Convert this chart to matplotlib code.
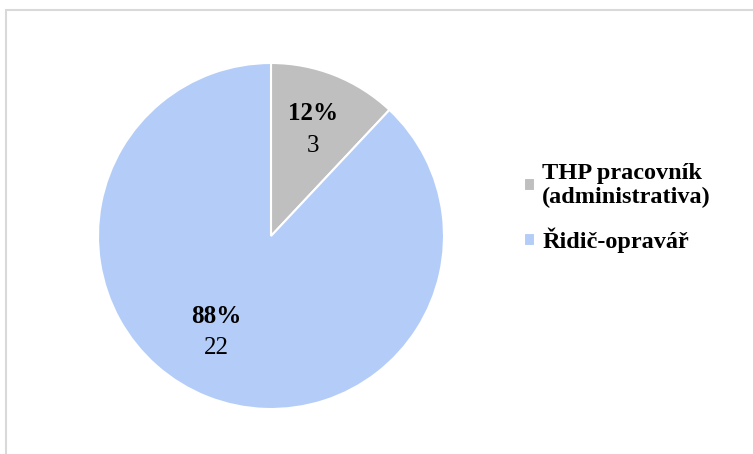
import matplotlib
matplotlib.use("Agg")
import matplotlib.pyplot as plt
import numpy as np
from matplotlib.patches import Rectangle

# Data
kategorie = ['THP pracovník\n(administrativa)', 'Řidič-opravář']
pocty = [3, 22]
barvy = ['#bfbfbf', '#b4cdf8']
posun_uhlu = [0, -8]          # small angular shifts of the data labels (deg)
vzdalenost = [0.66, 0.64]     # label distance from centre (fraction of radius)

plt.rcParams['font.family'] = ['Liberation Serif', 'DejaVu Serif']

fig = plt.figure(figsize=(7.53, 4.54), dpi=100)

# chart border (only top and left visible in the crop)
fig.patches.append(Rectangle((6 / 753, -0.1), 1.2, 1 - 10 / 454 + 0.1,
                             transform=fig.transFigure, fill=False,
                             edgecolor='#d9d9d9', linewidth=1.5))

# pie axes: centre (271, 236) px, radius 173 px
r = 173
ax = fig.add_axes([(271 - r) / 753, (454 - 236 - r) / 454, 2 * r / 753, 2 * r / 454])
wedges, _ = ax.pie(pocty, colors=barvy, startangle=90, counterclock=False,
                   radius=1.0, wedgeprops=dict(edgecolor='white', linewidth=1.5))
ax.set_xlim(-1, 1)
ax.set_ylim(-1, 1)
ax.set_aspect('equal')
ax.axis('off')

celkem = sum(pocty)
krok = 16 / r
for w, n, d, du in zip(wedges, pocty, vzdalenost, posun_uhlu):
    uhel = np.deg2rad((w.theta1 + w.theta2) / 2 + du)
    x, y = d * np.cos(uhel), d * np.sin(uhel)
    ax.text(x, y + krok, f'{round(100 * n / celkem)}%', ha='center', va='center',
            fontsize=18, fontweight='bold')
    ax.text(x, y - krok, str(n), ha='center', va='center', fontsize=18)

fig.legend(wedges, kategorie, loc='upper left', bbox_to_anchor=(502 / 753, 1 - 141 / 454),
           frameon=False, prop=dict(family='Liberation Serif', weight='bold', size=17.5),
           handlelength=0.45, handleheight=0.45, handletextpad=0.3, labelspacing=0.8)

fig.savefig('out.png', dpi=100)
